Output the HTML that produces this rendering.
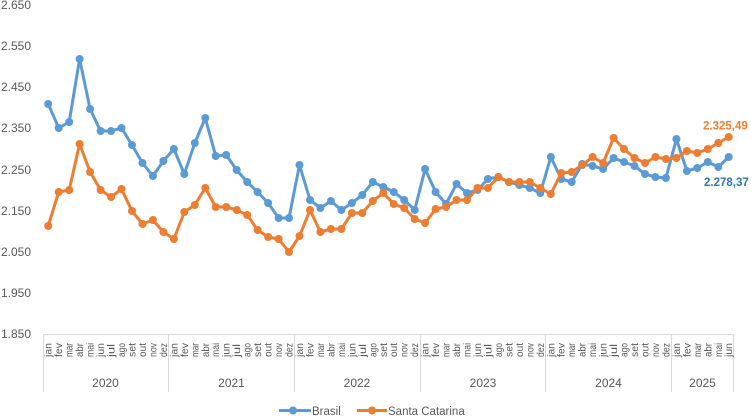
<!DOCTYPE html>
<html><head><meta charset="utf-8"><style>
html,body{margin:0;padding:0;background:#fff;}
svg{display:block;}
text{font-family:"Liberation Sans",sans-serif;fill:#595959;}
</style></head><body>
<svg width="751" height="416" viewBox="0 0 751 416" xmlns="http://www.w3.org/2000/svg">
<defs>
<marker id="mb" markerUnits="userSpaceOnUse" markerWidth="10" markerHeight="10" refX="5" refY="5"><circle cx="5" cy="5" r="4" fill="#5B9BD5"/></marker>
<marker id="mo" markerUnits="userSpaceOnUse" markerWidth="10" markerHeight="10" refX="5" refY="5"><circle cx="5" cy="5" r="4" fill="#ED7D31"/></marker>
</defs>
<g font-size="12">
<text x="1" y="9">2.650</text>
<text x="1" y="50">2.550</text>
<text x="1" y="91">2.450</text>
<text x="1" y="132">2.350</text>
<text x="1" y="174">2.250</text>
<text x="1" y="215">2.150</text>
<text x="1" y="256">2.050</text>
<text x="1" y="297">1.950</text>
<text x="1" y="338">1.850</text>
</g>
<g stroke="#d9d9d9" stroke-width="1" fill="none">
<line x1="43" y1="334.5" x2="734" y2="334.5"/>
<line x1="43.5" y1="334" x2="43.5" y2="392"/>
<line x1="168.5" y1="334" x2="168.5" y2="392"/>
<line x1="294.5" y1="334" x2="294.5" y2="392"/>
<line x1="420.5" y1="334" x2="420.5" y2="392"/>
<line x1="545.5" y1="334" x2="545.5" y2="392"/>
<line x1="671.5" y1="334" x2="671.5" y2="392"/>
<line x1="733.5" y1="334" x2="733.5" y2="392"/>
</g>
<polyline fill="none" stroke="#5B9BD5" stroke-width="3" stroke-linejoin="round" marker-start="url(#mb)" marker-mid="url(#mb)" marker-end="url(#mb)" points="48.2,104 58.7,128 69.2,122 79.6,59 90.1,109 100.6,131 111.1,131 121.5,128 132.0,145 142.5,163 152.9,176 163.4,161 173.9,149 184.3,174 194.8,143 205.3,118 215.7,156 226.2,155 236.7,170 247.2,182 257.6,192 268.1,203 278.6,218 289.0,218 299.5,165 310.0,200 320.4,208 330.9,201 341.4,210 351.9,203 362.3,195 372.8,182 383.3,187 393.7,192 404.2,200 414.7,210 425.1,169 435.6,192 446.1,204 456.5,184 467.0,193 477.5,190 487.9,179 498.4,177 508.9,182 519.4,185 529.8,188 540.3,193 550.8,157 561.2,179 571.7,182 582.2,164 592.6,166 603.1,169 613.6,158 624.0,162 634.5,166 645.0,174 655.4,177 665.9,178 676.4,139 686.9,171 697.3,168 707.8,162 718.3,167 728.7,157"/>
<polyline fill="none" stroke="#ED7D31" stroke-width="3" stroke-linejoin="round" marker-start="url(#mo)" marker-mid="url(#mo)" marker-end="url(#mo)" points="48.2,226 58.7,192 69.2,190 79.6,144 90.1,172 100.6,190 111.1,197 121.5,189 132.0,211 142.5,224 152.9,220 163.4,232 173.9,239 184.3,212 194.8,205 205.3,188 215.7,207 226.2,207 236.7,210 247.2,215 257.6,230 268.1,237 278.6,239 289.0,252 299.5,236 310.0,210 320.4,232 330.9,229 341.4,229 351.9,213 362.3,213 372.8,201 383.3,193 393.7,204 404.2,208 414.7,219 425.1,223 435.6,209 446.1,207 456.5,200 467.0,200 477.5,188 487.9,188 498.4,177 508.9,182 519.4,182 529.8,182 540.3,188 550.8,194 561.2,173 571.7,172 582.2,165 592.6,157 603.1,163 613.6,138 624.0,149 634.5,158 645.0,163 655.4,157 665.9,159 676.4,158 686.9,151 697.3,153 707.8,149 718.3,143 728.7,137"/>
<text x="703" y="129.5" font-size="11.5" font-weight="bold" style="fill:#ED7D31">2.325,49</text>
<text x="704" y="186" font-size="11.5" font-weight="bold" style="fill:#2E75B6">2.278,37</text>
<g font-size="10.5">
<text transform="translate(51.7,357) rotate(-90)" textLength="14" lengthAdjust="spacingAndGlyphs">jan</text>
<text transform="translate(62.2,357) rotate(-90)" textLength="14" lengthAdjust="spacingAndGlyphs">fev</text>
<text transform="translate(72.7,357) rotate(-90)" textLength="14" lengthAdjust="spacingAndGlyphs">mar</text>
<text transform="translate(83.1,357) rotate(-90)" textLength="14" lengthAdjust="spacingAndGlyphs">abr</text>
<text transform="translate(93.6,357) rotate(-90)" textLength="14" lengthAdjust="spacingAndGlyphs">mai</text>
<text transform="translate(104.1,357) rotate(-90)" textLength="14" lengthAdjust="spacingAndGlyphs">jun</text>
<text transform="translate(114.6,357) rotate(-90)" textLength="13" lengthAdjust="spacingAndGlyphs">jul</text>
<text transform="translate(125.0,357) rotate(-90)" textLength="14" lengthAdjust="spacingAndGlyphs">ago</text>
<text transform="translate(135.5,357) rotate(-90)" textLength="14" lengthAdjust="spacingAndGlyphs">set</text>
<text transform="translate(146.0,357) rotate(-90)" textLength="14" lengthAdjust="spacingAndGlyphs">out</text>
<text transform="translate(156.4,357) rotate(-90)" textLength="14" lengthAdjust="spacingAndGlyphs">nov</text>
<text transform="translate(166.9,357) rotate(-90)" textLength="14" lengthAdjust="spacingAndGlyphs">dez</text>
<text transform="translate(177.4,357) rotate(-90)" textLength="14" lengthAdjust="spacingAndGlyphs">jan</text>
<text transform="translate(187.8,357) rotate(-90)" textLength="14" lengthAdjust="spacingAndGlyphs">fev</text>
<text transform="translate(198.3,357) rotate(-90)" textLength="14" lengthAdjust="spacingAndGlyphs">mar</text>
<text transform="translate(208.8,357) rotate(-90)" textLength="14" lengthAdjust="spacingAndGlyphs">abr</text>
<text transform="translate(219.2,357) rotate(-90)" textLength="14" lengthAdjust="spacingAndGlyphs">mai</text>
<text transform="translate(229.7,357) rotate(-90)" textLength="14" lengthAdjust="spacingAndGlyphs">jun</text>
<text transform="translate(240.2,357) rotate(-90)" textLength="13" lengthAdjust="spacingAndGlyphs">jul</text>
<text transform="translate(250.7,357) rotate(-90)" textLength="14" lengthAdjust="spacingAndGlyphs">ago</text>
<text transform="translate(261.1,357) rotate(-90)" textLength="14" lengthAdjust="spacingAndGlyphs">set</text>
<text transform="translate(271.6,357) rotate(-90)" textLength="14" lengthAdjust="spacingAndGlyphs">out</text>
<text transform="translate(282.1,357) rotate(-90)" textLength="14" lengthAdjust="spacingAndGlyphs">nov</text>
<text transform="translate(292.5,357) rotate(-90)" textLength="14" lengthAdjust="spacingAndGlyphs">dez</text>
<text transform="translate(303.0,357) rotate(-90)" textLength="14" lengthAdjust="spacingAndGlyphs">jan</text>
<text transform="translate(313.5,357) rotate(-90)" textLength="14" lengthAdjust="spacingAndGlyphs">fev</text>
<text transform="translate(323.9,357) rotate(-90)" textLength="14" lengthAdjust="spacingAndGlyphs">mar</text>
<text transform="translate(334.4,357) rotate(-90)" textLength="14" lengthAdjust="spacingAndGlyphs">abr</text>
<text transform="translate(344.9,357) rotate(-90)" textLength="14" lengthAdjust="spacingAndGlyphs">mai</text>
<text transform="translate(355.4,357) rotate(-90)" textLength="14" lengthAdjust="spacingAndGlyphs">jun</text>
<text transform="translate(365.8,357) rotate(-90)" textLength="13" lengthAdjust="spacingAndGlyphs">jul</text>
<text transform="translate(376.3,357) rotate(-90)" textLength="14" lengthAdjust="spacingAndGlyphs">ago</text>
<text transform="translate(386.8,357) rotate(-90)" textLength="14" lengthAdjust="spacingAndGlyphs">set</text>
<text transform="translate(397.2,357) rotate(-90)" textLength="14" lengthAdjust="spacingAndGlyphs">out</text>
<text transform="translate(407.7,357) rotate(-90)" textLength="14" lengthAdjust="spacingAndGlyphs">nov</text>
<text transform="translate(418.2,357) rotate(-90)" textLength="14" lengthAdjust="spacingAndGlyphs">dez</text>
<text transform="translate(428.6,357) rotate(-90)" textLength="14" lengthAdjust="spacingAndGlyphs">jan</text>
<text transform="translate(439.1,357) rotate(-90)" textLength="14" lengthAdjust="spacingAndGlyphs">fev</text>
<text transform="translate(449.6,357) rotate(-90)" textLength="14" lengthAdjust="spacingAndGlyphs">mar</text>
<text transform="translate(460.0,357) rotate(-90)" textLength="14" lengthAdjust="spacingAndGlyphs">abr</text>
<text transform="translate(470.5,357) rotate(-90)" textLength="14" lengthAdjust="spacingAndGlyphs">mai</text>
<text transform="translate(481.0,357) rotate(-90)" textLength="14" lengthAdjust="spacingAndGlyphs">jun</text>
<text transform="translate(491.4,357) rotate(-90)" textLength="13" lengthAdjust="spacingAndGlyphs">jul</text>
<text transform="translate(501.9,357) rotate(-90)" textLength="14" lengthAdjust="spacingAndGlyphs">ago</text>
<text transform="translate(512.4,357) rotate(-90)" textLength="14" lengthAdjust="spacingAndGlyphs">set</text>
<text transform="translate(522.9,357) rotate(-90)" textLength="14" lengthAdjust="spacingAndGlyphs">out</text>
<text transform="translate(533.3,357) rotate(-90)" textLength="14" lengthAdjust="spacingAndGlyphs">nov</text>
<text transform="translate(543.8,357) rotate(-90)" textLength="14" lengthAdjust="spacingAndGlyphs">dez</text>
<text transform="translate(554.3,357) rotate(-90)" textLength="14" lengthAdjust="spacingAndGlyphs">jan</text>
<text transform="translate(564.7,357) rotate(-90)" textLength="14" lengthAdjust="spacingAndGlyphs">fev</text>
<text transform="translate(575.2,357) rotate(-90)" textLength="14" lengthAdjust="spacingAndGlyphs">mar</text>
<text transform="translate(585.7,357) rotate(-90)" textLength="14" lengthAdjust="spacingAndGlyphs">abr</text>
<text transform="translate(596.1,357) rotate(-90)" textLength="14" lengthAdjust="spacingAndGlyphs">mai</text>
<text transform="translate(606.6,357) rotate(-90)" textLength="14" lengthAdjust="spacingAndGlyphs">jun</text>
<text transform="translate(617.1,357) rotate(-90)" textLength="13" lengthAdjust="spacingAndGlyphs">jul</text>
<text transform="translate(627.5,357) rotate(-90)" textLength="14" lengthAdjust="spacingAndGlyphs">ago</text>
<text transform="translate(638.0,357) rotate(-90)" textLength="14" lengthAdjust="spacingAndGlyphs">set</text>
<text transform="translate(648.5,357) rotate(-90)" textLength="14" lengthAdjust="spacingAndGlyphs">out</text>
<text transform="translate(658.9,357) rotate(-90)" textLength="14" lengthAdjust="spacingAndGlyphs">nov</text>
<text transform="translate(669.4,357) rotate(-90)" textLength="14" lengthAdjust="spacingAndGlyphs">dez</text>
<text transform="translate(679.9,357) rotate(-90)" textLength="14" lengthAdjust="spacingAndGlyphs">jan</text>
<text transform="translate(690.4,357) rotate(-90)" textLength="14" lengthAdjust="spacingAndGlyphs">fev</text>
<text transform="translate(700.8,357) rotate(-90)" textLength="14" lengthAdjust="spacingAndGlyphs">mar</text>
<text transform="translate(711.3,357) rotate(-90)" textLength="14" lengthAdjust="spacingAndGlyphs">abr</text>
<text transform="translate(721.8,357) rotate(-90)" textLength="14" lengthAdjust="spacingAndGlyphs">mai</text>
<text transform="translate(732.2,357) rotate(-90)" textLength="14" lengthAdjust="spacingAndGlyphs">jun</text>
</g>
<g font-size="12" text-anchor="middle">
<text x="105.5" y="387">2020</text>
<text x="231.5" y="387">2021</text>
<text x="357" y="387">2022</text>
<text x="483" y="387">2023</text>
<text x="608.5" y="387">2024</text>
<text x="702.5" y="387">2025</text>
</g>
<line x1="279" y1="410.5" x2="311" y2="410.5" stroke="#5B9BD5" stroke-width="3"/>
<circle cx="293" cy="410.5" r="4" fill="#5B9BD5"/>
<text x="312" y="415" font-size="11.5">Brasil</text>
<line x1="357" y1="410.5" x2="387" y2="410.5" stroke="#ED7D31" stroke-width="3"/>
<circle cx="372" cy="410.5" r="4" fill="#ED7D31"/>
<text x="388" y="415" font-size="11.5">Santa Catarina</text>
</svg>
</body></html>
